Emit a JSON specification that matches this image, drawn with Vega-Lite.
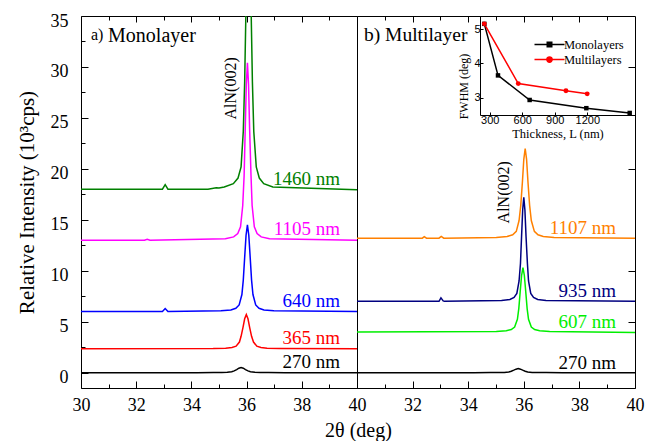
{
  "$schema": "https://vega.github.io/schema/vega-lite/v6.json",
  "padding": {"left": 15, "top": 11, "right": 5, "bottom": 0},
  "background": "white",
  "bounds": "flush",
  "spacing": 0,
  "datasets": {
    "curves": [
      {"p":"a","s":"270 nm","x":30,"y":0},{"p":"a","s":"270 nm","x":34.2,"y":0},{"p":"a","s":"270 nm","x":34.8,"y":0.01},{"p":"a","s":"270 nm","x":35.1,"y":0.02},{"p":"a","s":"270 nm","x":35.3,"y":0.04},{"p":"a","s":"270 nm","x":35.46,"y":0.1},{"p":"a","s":"270 nm","x":35.55,"y":0.18},{"p":"a","s":"270 nm","x":35.64,"y":0.31},{"p":"a","s":"270 nm","x":35.72,"y":0.44},{"p":"a","s":"270 nm","x":35.8,"y":0.5},{"p":"a","s":"270 nm","x":35.88,"y":0.44},{"p":"a","s":"270 nm","x":35.96,"y":0.31},{"p":"a","s":"270 nm","x":36.05,"y":0.18},{"p":"a","s":"270 nm","x":36.14,"y":0.1},{"p":"a","s":"270 nm","x":36.3,"y":0.04},{"p":"a","s":"270 nm","x":36.5,"y":0.02},{"p":"a","s":"270 nm","x":36.8,"y":0.01},{"p":"a","s":"270 nm","x":37.4,"y":0},{"p":"a","s":"270 nm","x":40,"y":0},
      {"p":"a","s":"365 nm","x":30,"y":2.35},{"p":"a","s":"365 nm","x":34.79,"y":2.38},{"p":"a","s":"365 nm","x":35.24,"y":2.41},{"p":"a","s":"365 nm","x":35.47,"y":2.48},{"p":"a","s":"365 nm","x":35.62,"y":2.6},{"p":"a","s":"365 nm","x":35.74,"y":3.01},{"p":"a","s":"365 nm","x":35.8,"y":3.57},{"p":"a","s":"365 nm","x":35.87,"y":4.45},{"p":"a","s":"365 nm","x":35.93,"y":5.29},{"p":"a","s":"365 nm","x":35.99,"y":5.7},{"p":"a","s":"365 nm","x":36.05,"y":5.29},{"p":"a","s":"365 nm","x":36.11,"y":4.45},{"p":"a","s":"365 nm","x":36.18,"y":3.57},{"p":"a","s":"365 nm","x":36.25,"y":3.01},{"p":"a","s":"365 nm","x":36.37,"y":2.6},{"p":"a","s":"365 nm","x":36.52,"y":2.48},{"p":"a","s":"365 nm","x":36.74,"y":2.41},{"p":"a","s":"365 nm","x":37.19,"y":2.38},{"p":"a","s":"365 nm","x":40,"y":2.35},
      {"p":"a","s":"640 nm","x":30,"y":6.0},{"p":"a","s":"640 nm","x":32.95,"y":6.0},{"p":"a","s":"640 nm","x":33.05,"y":6.3},{"p":"a","s":"640 nm","x":33.15,"y":6.0},{"p":"a","s":"640 nm","x":35.07,"y":6.07},{"p":"a","s":"640 nm","x":35.43,"y":6.16},{"p":"a","s":"640 nm","x":35.61,"y":6.32},{"p":"a","s":"640 nm","x":35.73,"y":6.65},{"p":"a","s":"640 nm","x":35.83,"y":7.67},{"p":"a","s":"640 nm","x":35.88,"y":9.09},{"p":"a","s":"640 nm","x":35.93,"y":11.32},{"p":"a","s":"640 nm","x":35.98,"y":13.47},{"p":"a","s":"640 nm","x":36.03,"y":14.5},{"p":"a","s":"640 nm","x":36.08,"y":13.47},{"p":"a","s":"640 nm","x":36.13,"y":11.32},{"p":"a","s":"640 nm","x":36.18,"y":9.09},{"p":"a","s":"640 nm","x":36.23,"y":7.67},{"p":"a","s":"640 nm","x":36.33,"y":6.65},{"p":"a","s":"640 nm","x":36.45,"y":6.32},{"p":"a","s":"640 nm","x":36.63,"y":6.16},{"p":"a","s":"640 nm","x":36.99,"y":6.07},{"p":"a","s":"640 nm","x":40,"y":6.0},
      {"p":"a","s":"1105 nm","x":30,"y":13.0},{"p":"a","s":"1105 nm","x":32.3,"y":13.0},{"p":"a","s":"1105 nm","x":32.4,"y":13.1},{"p":"a","s":"1105 nm","x":32.5,"y":13.0},{"p":"a","s":"1105 nm","x":35.23,"y":13.14},{"p":"a","s":"1105 nm","x":35.53,"y":13.33},{"p":"a","s":"1105 nm","x":35.68,"y":13.66},{"p":"a","s":"1105 nm","x":35.78,"y":14.32},{"p":"a","s":"1105 nm","x":35.86,"y":16.41},{"p":"a","s":"1105 nm","x":35.91,"y":19.33},{"p":"a","s":"1105 nm","x":35.95,"y":23.89},{"p":"a","s":"1105 nm","x":35.99,"y":28.3},{"p":"a","s":"1105 nm","x":36.03,"y":30.4},{"p":"a","s":"1105 nm","x":36.07,"y":28.3},{"p":"a","s":"1105 nm","x":36.11,"y":23.89},{"p":"a","s":"1105 nm","x":36.16,"y":19.33},{"p":"a","s":"1105 nm","x":36.2,"y":16.41},{"p":"a","s":"1105 nm","x":36.28,"y":14.32},{"p":"a","s":"1105 nm","x":36.38,"y":13.66},{"p":"a","s":"1105 nm","x":36.53,"y":13.33},{"p":"a","s":"1105 nm","x":36.83,"y":13.14},{"p":"a","s":"1105 nm","x":40,"y":13.0},
      {"p":"a","s":"1460 nm","x":30,"y":18.0},{"p":"a","s":"1460 nm","x":32.95,"y":18.0},{"p":"a","s":"1460 nm","x":33.05,"y":18.45},{"p":"a","s":"1460 nm","x":33.15,"y":18.0},{"p":"a","s":"1460 nm","x":34.6,"y":18.0},{"p":"a","s":"1460 nm","x":34.9,"y":18.15},{"p":"a","s":"1460 nm","x":35.0,"y":18.12},{"p":"a","s":"1460 nm","x":35.19,"y":18.23},{"p":"a","s":"1460 nm","x":35.52,"y":18.55},{"p":"a","s":"1460 nm","x":35.69,"y":19.1},{"p":"a","s":"1460 nm","x":35.8,"y":20.2},{"p":"a","s":"1460 nm","x":35.88,"y":23.68},{"p":"a","s":"1460 nm","x":35.93,"y":28.56},{"p":"a","s":"1460 nm","x":35.98,"y":36.15},{"p":"a","s":"1460 nm","x":36.03,"y":43.49},{"p":"a","s":"1460 nm","x":36.07,"y":47},{"p":"a","s":"1460 nm","x":36.11,"y":43.49},{"p":"a","s":"1460 nm","x":36.16,"y":36.15},{"p":"a","s":"1460 nm","x":36.21,"y":28.56},{"p":"a","s":"1460 nm","x":36.26,"y":23.68},{"p":"a","s":"1460 nm","x":36.35,"y":20.2},{"p":"a","s":"1460 nm","x":36.46,"y":19.1},{"p":"a","s":"1460 nm","x":36.62,"y":18.55},{"p":"a","s":"1460 nm","x":36.95,"y":18.23},{"p":"a","s":"1460 nm","x":40,"y":17.95},
      {"p":"b","s":"270 nm","x":30,"y":0},{"p":"b","s":"270 nm","x":34.2,"y":0},{"p":"b","s":"270 nm","x":34.8,"y":0.01},{"p":"b","s":"270 nm","x":35.1,"y":0.02},{"p":"b","s":"270 nm","x":35.3,"y":0.03},{"p":"b","s":"270 nm","x":35.46,"y":0.08},{"p":"b","s":"270 nm","x":35.55,"y":0.15},{"p":"b","s":"270 nm","x":35.64,"y":0.25},{"p":"b","s":"270 nm","x":35.72,"y":0.35},{"p":"b","s":"270 nm","x":35.8,"y":0.4},{"p":"b","s":"270 nm","x":35.88,"y":0.35},{"p":"b","s":"270 nm","x":35.96,"y":0.25},{"p":"b","s":"270 nm","x":36.05,"y":0.15},{"p":"b","s":"270 nm","x":36.14,"y":0.08},{"p":"b","s":"270 nm","x":36.3,"y":0.03},{"p":"b","s":"270 nm","x":36.5,"y":0.02},{"p":"b","s":"270 nm","x":36.8,"y":0.01},{"p":"b","s":"270 nm","x":37.4,"y":0},{"p":"b","s":"270 nm","x":40,"y":0},
      {"p":"b","s":"607 nm","x":30,"y":4.0},{"p":"b","s":"607 nm","x":35.01,"y":4.05},{"p":"b","s":"607 nm","x":35.37,"y":4.12},{"p":"b","s":"607 nm","x":35.55,"y":4.24},{"p":"b","s":"607 nm","x":35.67,"y":4.48},{"p":"b","s":"607 nm","x":35.77,"y":5.24},{"p":"b","s":"607 nm","x":35.82,"y":6.29},{"p":"b","s":"607 nm","x":35.87,"y":7.94},{"p":"b","s":"607 nm","x":35.92,"y":9.54},{"p":"b","s":"607 nm","x":35.97,"y":10.3},{"p":"b","s":"607 nm","x":36.02,"y":9.54},{"p":"b","s":"607 nm","x":36.07,"y":7.94},{"p":"b","s":"607 nm","x":36.12,"y":6.29},{"p":"b","s":"607 nm","x":36.17,"y":5.24},{"p":"b","s":"607 nm","x":36.27,"y":4.48},{"p":"b","s":"607 nm","x":36.39,"y":4.24},{"p":"b","s":"607 nm","x":36.57,"y":4.12},{"p":"b","s":"607 nm","x":36.93,"y":4.05},{"p":"b","s":"607 nm","x":40,"y":3.95},
      {"p":"b","s":"935 nm","x":30,"y":7.0},{"p":"b","s":"935 nm","x":32.95,"y":7.0},{"p":"b","s":"935 nm","x":33.02,"y":7.35},{"p":"b","s":"935 nm","x":33.1,"y":7.05},{"p":"b","s":"935 nm","x":33.15,"y":7.0},{"p":"b","s":"935 nm","x":35.2,"y":7.08},{"p":"b","s":"935 nm","x":35.5,"y":7.19},{"p":"b","s":"935 nm","x":35.65,"y":7.39},{"p":"b","s":"935 nm","x":35.75,"y":7.78},{"p":"b","s":"935 nm","x":35.83,"y":9.0},{"p":"b","s":"935 nm","x":35.88,"y":10.71},{"p":"b","s":"935 nm","x":35.92,"y":13.39},{"p":"b","s":"935 nm","x":35.96,"y":15.97},{"p":"b","s":"935 nm","x":36.0,"y":17.2},{"p":"b","s":"935 nm","x":36.04,"y":15.97},{"p":"b","s":"935 nm","x":36.08,"y":13.39},{"p":"b","s":"935 nm","x":36.13,"y":10.71},{"p":"b","s":"935 nm","x":36.17,"y":9.0},{"p":"b","s":"935 nm","x":36.25,"y":7.78},{"p":"b","s":"935 nm","x":36.35,"y":7.39},{"p":"b","s":"935 nm","x":36.5,"y":7.19},{"p":"b","s":"935 nm","x":36.8,"y":7.08},{"p":"b","s":"935 nm","x":40,"y":7.0},
      {"p":"b","s":"1107 nm","x":30,"y":13.2},{"p":"b","s":"1107 nm","x":32.35,"y":13.2},{"p":"b","s":"1107 nm","x":32.42,"y":13.35},{"p":"b","s":"1107 nm","x":32.5,"y":13.2},{"p":"b","s":"1107 nm","x":32.95,"y":13.2},{"p":"b","s":"1107 nm","x":33.03,"y":13.38},{"p":"b","s":"1107 nm","x":33.12,"y":13.2},{"p":"b","s":"1107 nm","x":35.01,"y":13.27},{"p":"b","s":"1107 nm","x":35.4,"y":13.37},{"p":"b","s":"1107 nm","x":35.6,"y":13.53},{"p":"b","s":"1107 nm","x":35.73,"y":13.87},{"p":"b","s":"1107 nm","x":35.83,"y":14.93},{"p":"b","s":"1107 nm","x":35.89,"y":16.4},{"p":"b","s":"1107 nm","x":35.95,"y":18.71},{"p":"b","s":"1107 nm","x":36.0,"y":20.94},{"p":"b","s":"1107 nm","x":36.05,"y":22.0},{"p":"b","s":"1107 nm","x":36.1,"y":20.94},{"p":"b","s":"1107 nm","x":36.15,"y":18.71},{"p":"b","s":"1107 nm","x":36.21,"y":16.4},{"p":"b","s":"1107 nm","x":36.27,"y":14.93},{"p":"b","s":"1107 nm","x":36.38,"y":13.87},{"p":"b","s":"1107 nm","x":36.51,"y":13.53},{"p":"b","s":"1107 nm","x":36.7,"y":13.37},{"p":"b","s":"1107 nm","x":37.09,"y":13.27},{"p":"b","s":"1107 nm","x":40,"y":13.2}
    ],
    "fwhm": [
      {"series":"Monolayers","t":250,"w":5.16},{"series":"Monolayers","t":376,"w":3.65},{"series":"Monolayers","t":668,"w":2.93},{"series":"Monolayers","t":1191,"w":2.69},{"series":"Monolayers","t":1591,"w":2.55},
      {"series":"Multilayers","t":250,"w":5.16},{"series":"Multilayers","t":563,"w":3.41},{"series":"Multilayers","t":1003,"w":3.2},{"series":"Multilayers","t":1199,"w":3.11}
    ]
  },
  "resolve": {"scale": {"stroke": "independent"}},
  "hconcat": [
    {
      "width": 276,
      "height": 372,
      "data": {"name": "curves"},
      "transform": [{"filter": "datum.p === 'a'"}],
      "resolve": {"axis": {"x": "independent", "y": "independent"}},
      "layer": [
        {
          "mark": {"type": "line", "clip": true, "strokeWidth": 1.5},
          "encoding": {
            "x": {"field": "x", "type": "quantitative",
              "scale": {"domain": [30, 40], "nice": false, "zero": false},
              "axis": {"orient": "bottom", "values": [30,31,32,33,34,35,36,37,38,39,40],
                "labelExpr": "datum.value % 2 === 0 ? datum.label : ''",
                "tickSize": {"condition": {"test": "datum.value % 2 === 0", "value": -7}, "value": -4},
                "labelPadding": 15, "title": "2θ (deg)", "titleX": 277, "titlePadding": 3}},
            "y": {"field": "y", "type": "quantitative",
              "scale": {"domain": [-1.5, 35], "nice": false, "zero": false},
              "axis": {"orient": "left", "values": [0,2.5,5,7.5,10,12.5,15,17.5,20,22.5,25,27.5,30,32.5,35],
                "labelExpr": "datum.value % 5 === 0 ? datum.label : ''",
                "tickSize": {"condition": {"test": "datum.value % 5 === 0", "value": -7}, "value": -4},
                "labelPadding": 20, "labelOffset": 5, "title": "Relative Intensity (10³cps)", "titleFontSize": 21, "titlePadding": 13}},
            "color": {"field": "s", "type": "nominal",
              "scale": {"domain": ["270 nm","365 nm","640 nm","1105 nm","1460 nm","607 nm","935 nm","1107 nm"],
                "range": ["#000000","#ff0000","#0000ff","#ff00ff","#008000","#00ee00","#000080","#ff8000"]},
              "legend": null}
          }
        },
        {
          "transform": [{"filter": "datum.x === 40"}],
          "mark": {"type": "text", "align": "right", "baseline": "alphabetic", "dx": -17, "dy": -5, "fontSize": 19, "font": "serif"},
          "encoding": {
            "x": {"field": "x", "type": "quantitative",
              "axis": {"orient": "top", "values": [31,32,33,34,35,36,37,38,39], "labels": false, "title": null,
                "tickSize": {"condition": {"test": "datum.value % 2 === 0", "value": -6}, "value": -4}}},
            "y": {"field": "y", "type": "quantitative", "axis": null},
            "text": {"field": "s"},
            "color": {"field": "s", "type": "nominal",
              "scale": {"domain": ["270 nm","365 nm","640 nm","1105 nm","1460 nm","607 nm","935 nm","1107 nm"],
                "range": ["#000000","#ff0000","#0000ff","#ff00ff","#008000","#00ee00","#000080","#ff8000"]},
              "legend": null}
          }
        },
        {
          "data": {"values": [{}]},
          "mark": {"type": "text", "angle": 270, "fontSize": 16, "align": "center", "baseline": "middle", "color": "#000", "font": "serif"},
          "encoding": {
            "x": {"datum": 35.42, "type": "quantitative", "axis": null},
            "y": {"datum": 27.9, "type": "quantitative", "axis": null},
            "text": {"value": "AlN(002)"}
          }
        },
        {
          "data": {"values": [{}]},
          "mark": {"type": "text", "fontSize": 16, "align": "left", "baseline": "alphabetic", "color": "#000", "font": "serif"},
          "encoding": {
            "x": {"datum": 30.36, "type": "quantitative", "axis": null},
            "y": {"datum": 32.6, "type": "quantitative", "axis": null},
            "text": {"value": "a)"}
          }
        },
        {
          "data": {"values": [{}]},
          "mark": {"type": "text", "fontSize": 20, "align": "left", "baseline": "alphabetic", "color": "#000", "font": "serif"},
          "encoding": {
            "x": {"datum": 30.98, "type": "quantitative", "axis": null},
            "y": {"datum": 32.4, "type": "quantitative", "axis": null},
            "text": {"value": "Monolayer"}
          }
        }
      ]
    },
    {
      "width": 278,
      "height": 372,
      "resolve": {"scale": {"x": "independent", "y": "independent"}, "axis": {"x": "independent", "y": "independent"}},
      "layer": [
        {
          "data": {"name": "curves"},
          "transform": [{"filter": "datum.p === 'b'"}],
          "resolve": {"axis": {"x": "independent", "y": "independent"}},
          "layer": [
            {
              "mark": {"type": "line", "clip": true, "strokeWidth": 1.5},
              "encoding": {
                "x": {"field": "x", "type": "quantitative",
                  "scale": {"domain": [30, 40], "nice": false, "zero": false},
                  "axis": {"orient": "bottom", "values": [30,31,32,33,34,35,36,37,38,39,40],
                    "labelExpr": "datum.value % 2 === 0 && datum.value > 30 ? datum.label : ''",
                    "tickSize": {"condition": {"test": "datum.value % 2 === 0", "value": -7}, "value": -4},
                    "labelPadding": 15, "title": null}},
                "y": {"field": "y", "type": "quantitative",
                  "scale": {"domain": [-1.5, 35], "nice": false, "zero": false},
                  "axis": null},
                "color": {"field": "s", "type": "nominal",
                  "scale": {"domain": ["270 nm","365 nm","640 nm","1105 nm","1460 nm","607 nm","935 nm","1107 nm"],
                    "range": ["#000000","#ff0000","#0000ff","#ff00ff","#008000","#00ee00","#000080","#ff8000"]},
                  "legend": null}
              }
            },
            {
              "transform": [{"filter": "datum.x === 40"}],
              "mark": {"type": "text", "align": "right", "baseline": "alphabetic", "dx": -19, "dy": -4, "fontSize": 19, "font": "serif"},
              "encoding": {
                "x": {"field": "x", "type": "quantitative",
                  "axis": {"orient": "top", "values": [31,32,33,34,35,36,37,38,39], "labels": false, "title": null,
                    "tickSize": {"condition": {"test": "datum.value % 2 === 0", "value": -6}, "value": -4}}},
                "y": {"field": "y", "type": "quantitative",
                  "axis": {"orient": "right", "values": [5,10,20,30], "labels": false, "title": null, "tickSize": -7}},
                "text": {"field": "s"},
                "color": {"field": "s", "type": "nominal",
                  "scale": {"domain": ["270 nm","365 nm","640 nm","1105 nm","1460 nm","607 nm","935 nm","1107 nm"],
                    "range": ["#000000","#ff0000","#0000ff","#ff00ff","#008000","#00ee00","#000080","#ff8000"]},
                  "legend": null}
              }
            },
            {
              "data": {"values": [{}]},
              "mark": {"type": "text", "angle": 270, "fontSize": 16, "align": "center", "baseline": "middle", "color": "#000", "font": "serif"},
              "encoding": {
                "x": {"datum": 35.29, "type": "quantitative", "axis": null},
                "y": {"datum": 17.7, "type": "quantitative", "axis": null},
                "text": {"value": "AlN(002)"}
              }
            },
            {
              "data": {"values": [{}]},
              "mark": {"type": "text", "fontSize": 19.5, "align": "left", "baseline": "alphabetic", "color": "#000", "font": "serif"},
              "encoding": {
                "x": {"datum": 30.25, "type": "quantitative", "axis": null},
                "y": {"datum": 32.5, "type": "quantitative", "axis": null},
                "text": {"value": "b) Multilayer"}
              }
            }
          ]
        },
        {
          "data": {"name": "fwhm"},
          "layer": [
            {
              "mark": {"type": "line", "strokeWidth": 1.5},
              "encoding": {
                "x": {"field": "t", "type": "quantitative",
                  "scale": {"domain": [210, 1640], "range": [123, 278], "nice": false, "zero": false},
                  "axis": {"orient": "bottom", "offset": -273, "values": [300, 600, 900, 1200], "format": "d", "domain": true, "domainColor": "#000",
                    "labelFont": "sans-serif", "labelFontSize": 11, "tickSize": -3, "labelPadding": 2,
                    "title": "Thickness, L (nm)", "titleFontSize": 12.5, "titlePadding": 2}},
                "y": {"field": "w", "type": "quantitative",
                  "scale": {"domain": [2.49, 5.39], "range": [99, 0], "nice": false, "zero": false},
                  "axis": {"orient": "left", "offset": -123, "values": [3, 4, 5], "format": "d", "domain": true, "domainColor": "#000",
                    "labelFont": "sans-serif", "labelFontSize": 11, "tickSize": -3, "labelPadding": 3,
                    "title": "FWHM (deg)", "titleFontSize": 12, "titlePadding": 3, "titleY": 70}},
                "stroke": {"field": "series", "type": "nominal",
                  "scale": {"domain": ["Monolayers", "Multilayers"], "range": ["#000000", "#ff0000"]},
                  "legend": {"orient": "none", "legendX": 184, "legendY": 20, "title": null,
                    "symbolSize": 225, "labelOffset": 6, "rowPadding": 0, "symbolStrokeWidth": 1.5,
                    "symbolType": "M-2,0H2M-0.3,-0.3H0.3V0.3H-0.3Z",
                    "labelFont": "serif", "labelFontSize": 12.5, "labelColor": "#000",
                    "encode": {"symbols": {"update": {
                      "shape": {"signal": "datum.value === 'Monolayers' ? 'M-2,0H2M-0.3,-0.3H0.3V0.3H-0.3Z' : 'M-2,0H2M0.35,0A0.35,0.35,0,1,1,-0.35,0A0.35,0.35,0,1,1,0.35,0Z'"},
                      "fill": {"signal": "datum.value === 'Monolayers' ? '#000000' : '#ff0000'"},
                      "strokeWidth": {"value": 1.5}
                    }}}}}
              }
            },
            {
              "transform": [{"filter": "datum.series === 'Monolayers'"}],
              "mark": {"type": "point", "filled": true, "shape": "square", "size": 20, "opacity": 1, "strokeWidth": 0, "color": "#000000"},
              "encoding": {
                "x": {"field": "t", "type": "quantitative"},
                "y": {"field": "w", "type": "quantitative"}
              }
            },
            {
              "transform": [{"filter": "datum.series === 'Multilayers'"}],
              "mark": {"type": "point", "filled": true, "shape": "circle", "size": 24, "opacity": 1, "strokeWidth": 0, "color": "#ff0000"},
              "encoding": {
                "x": {"field": "t", "type": "quantitative"},
                "y": {"field": "w", "type": "quantitative"}
              }
            }
          ]
        }
      ]
    }
  ],
  "config": {
    "view": {"stroke": "#000000", "strokeWidth": 1},
    "font": "serif",
    "text": {"font": "serif"},
    "axis": {"domain": false, "grid": false, "tickColor": "#000000", "tickWidth": 1,
      "labelColor": "#000000", "titleColor": "#000000",
      "labelFont": "serif", "titleFont": "serif",
      "labelFontSize": 18, "titleFontSize": 20, "titleFontWeight": "normal",
      "labelFlush": false, "labelOverlap": false},
    "legend": {"labelFont": "serif", "labelColor": "#000000"}
  }
}
